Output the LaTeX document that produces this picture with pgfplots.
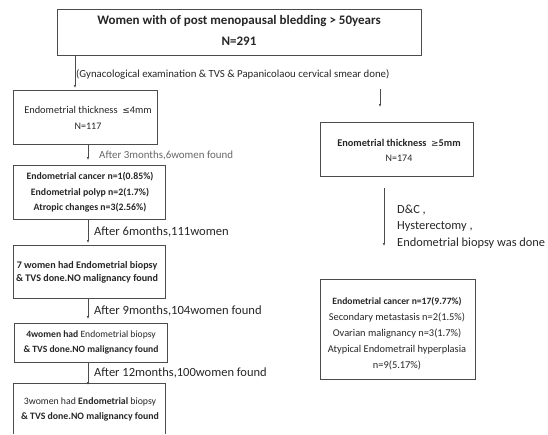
\documentclass[border=0pt]{standalone}
\usepackage{pgfplots}
\pgfplotsset{compat=1.18}
\usetikzlibrary{arrows.meta}
\usepackage{fontspec}
\setmainfont{Carlito}
\newfontfamily\symf{DejaVu Sans}
\begin{document}
\begin{tikzpicture}
\begin{axis}[
  scale only axis, width=548pt, height=434pt,
  xmin=0, xmax=548, ymin=0, ymax=434, y dir=reverse,
  hide axis, clip=false]
\addplot[draw=none] coordinates {(0,0) (548,434)};
% boxes
\draw[black!70, line width=0.8pt] (axis cs:57,9) rectangle (axis cs:421,55);
\draw[black!70, line width=0.8pt] (axis cs:13,90) rectangle (axis cs:157,144);
\draw[black!70, line width=0.8pt] (axis cs:13,165) rectangle (axis cs:165,219);
\draw[black!70, line width=0.8pt] (axis cs:13,245) rectangle (axis cs:165,298);
\draw[black!70, line width=0.8pt] (axis cs:14,323) rectangle (axis cs:167,362);
\draw[black!70, line width=0.8pt] (axis cs:13,434) -- (axis cs:13,383) -- (axis cs:165,383) -- (axis cs:165,434);
\draw[black!70, line width=0.8pt] (axis cs:320,122) rectangle (axis cs:473,176);
\draw[black!70, line width=0.8pt] (axis cs:320,279) rectangle (axis cs:475,379);
% arrows
\draw[black!70, line width=0.7pt, -{Latex[length=3pt,width=2.5pt]}] (axis cs:75,55) -- (axis cs:75,88);
\draw[black!70, line width=0.7pt, -{Latex[length=3pt,width=2.5pt]}] (axis cs:380,89) -- (axis cs:380,107);
\draw[black!70, line width=0.7pt, -{Latex[length=3pt,width=2.5pt]}] (axis cs:88,144) -- (axis cs:88,160);
\draw[black!70, line width=0.7pt, -{Latex[length=3pt,width=2.5pt]}] (axis cs:88,219) -- (axis cs:88,243);
\draw[black!70, line width=0.7pt, -{Latex[length=3pt,width=2.5pt]}] (axis cs:88,298) -- (axis cs:88,319);
\draw[black!70, line width=0.7pt, -{Latex[length=3pt,width=2.5pt]}] (axis cs:88,362) -- (axis cs:88,385);
\draw[black!70, line width=0.7pt, -{Latex[length=3pt,width=2.5pt]}] (axis cs:384,188) -- (axis cs:384,246);
% texts
\node[font=\bfseries\fontsize{13}{15}\selectfont, text=black!85] at (axis cs:239,21) {Women with of post menopausal bledding > 50years};
\node[font=\bfseries\fontsize{13}{15}\selectfont, text=black!85] at (axis cs:239,41) {N=291};
\node[font=\fontsize{10.8}{12}\selectfont, text=black!85, anchor=west, inner sep=0pt] at (axis cs:76,74) {(Gynacological examination \& TVS \& Papanicolaou cervical smear done)};
\node[font=\fontsize{10.4}{11}\selectfont, text=black!85] at (axis cs:88,110) {Endometrial thickness \ {\symf\fontsize{9}{9}\selectfont ≤}4mm};
\node[font=\fontsize{10}{11}\selectfont, text=black!85] at (axis cs:88,126) {N=117};
\node[font=\fontsize{10.9}{12}\selectfont, text=black!60, anchor=west, inner sep=0pt] at (axis cs:99,155) {After 3months,6women found};
\node[font=\bfseries\fontsize{9.8}{10}\selectfont, text=black!85] at (axis cs:90,177) {Endometrial cancer n=1(0.85\%)};
\node[font=\bfseries\fontsize{9.8}{10}\selectfont, text=black!85] at (axis cs:90,193) {Endometrial polyp n=2(1.7\%)};
\node[font=\bfseries\fontsize{9.8}{10}\selectfont, text=black!85] at (axis cs:90,208) {Atropic changes n=3(2.56\%)};
\node[font=\fontsize{12.6}{14}\selectfont, text=black!85, anchor=west, inner sep=0pt] at (axis cs:94,232) {After 6months,111women};
\node[font=\bfseries\fontsize{10.1}{10}\selectfont, text=black!85] at (axis cs:87,266) {7 women had Endometrial biopsy};
\node[font=\bfseries\fontsize{10.1}{10}\selectfont, text=black!85] at (axis cs:87,279) {\& TVS done.NO malignancy found};
\node[font=\fontsize{12.6}{14}\selectfont, text=black!85, anchor=west, inner sep=0pt] at (axis cs:94,311) {After 9months,104women found};
\node[font=\fontsize{9.6}{10}\selectfont, text=black!85] at (axis cs:91,335) {\textbf{4women had} Endometrial biopsy};
\node[font=\bfseries\fontsize{9.6}{10}\selectfont, text=black!85] at (axis cs:91,350) {\& TVS done.NO malignancy found};
\node[font=\fontsize{12.5}{14}\selectfont, text=black!85, anchor=west, inner sep=0pt] at (axis cs:94,373) {After 12months,100women found};
\node[font=\fontsize{9.8}{10}\selectfont, text=black!85] at (axis cs:90,402) {3women had \textbf{Endometrial} biopsy};
\node[font=\bfseries\fontsize{9.8}{10}\selectfont, text=black!85] at (axis cs:90,417) {\& TVS done.NO malignancy found};
\node[font=\bfseries\fontsize{10.3}{10}\selectfont, text=black!85] at (axis cs:399,143) {Enometrial thickness \ {\symf\mdseries\fontsize{9}{9}\selectfont ≥}5mm};
\node[font=\fontsize{10}{10}\selectfont, text=black!85] at (axis cs:399,158) {N=174};
\node[font=\fontsize{12.4}{14}\selectfont, text=black!85, anchor=west, inner sep=0pt] at (axis cs:397,210) {D\&C ,};
\node[font=\fontsize{12.4}{14}\selectfont, text=black!85, anchor=west, inner sep=0pt] at (axis cs:397,227) {Hysterectomy ,};
\node[font=\fontsize{12.4}{14}\selectfont, text=black!85, anchor=west, inner sep=0pt] at (axis cs:397,243) {Endometrial biopsy was done};
\node[font=\bfseries\fontsize{9.6}{10}\selectfont, text=black!85] at (axis cs:397,302) {Endometrial cancer n=17(9.77\%)};
\node[font=\fontsize{10.4}{10}\selectfont, text=black!85] at (axis cs:397,318) {Secondary metastasis n=2(1.5\%)};
\node[font=\fontsize{10.4}{10}\selectfont, text=black!85] at (axis cs:397,334) {Ovarian malignancy n=3(1.7\%)};
\node[font=\fontsize{10.4}{10}\selectfont, text=black!85] at (axis cs:397,350) {Atypical Endometrail hyperplasia};
\node[font=\fontsize{10.4}{10}\selectfont, text=black!85] at (axis cs:397,365) {n=9(5.17\%)};
\end{axis}
\end{tikzpicture}
\end{document}
